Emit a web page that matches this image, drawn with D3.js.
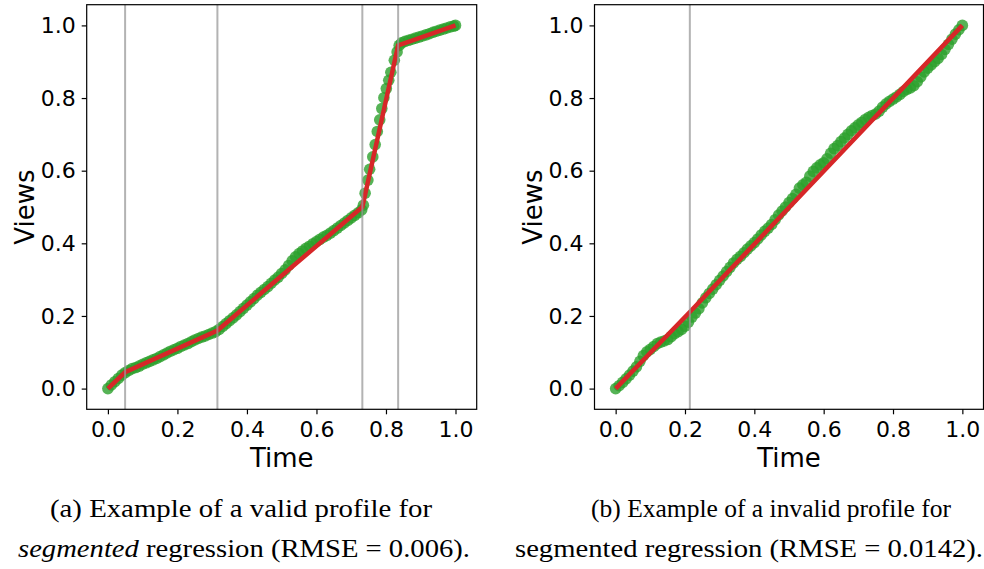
<!DOCTYPE html>
<html>
<head>
<meta charset="utf-8">
<script src="https://cdn.jsdelivr.net/npm/d3@7"></script>
<style>
  body { margin: 0; background: #fff; }
  svg { display: block; }
  .tick text { font-family: "DejaVu Sans", sans-serif; font-size: 22px; fill: #000; }
  .axis-label { font-family: "DejaVu Sans", sans-serif; font-size: 26px; fill: #000; }
  .caption { font-family: "Liberation Serif", serif; font-size: 26px; fill: #000; }
</style>
</head>
<body>
<svg width="984" height="569"></svg>
<script>
// panel (a): observed profile, normalised
var timeA = [0.00, 0.01, 0.02, 0.03, 0.04, 0.05, 0.06, 0.07, 0.08, 0.09,
  0.10, 0.11, 0.12, 0.13, 0.14, 0.15, 0.16, 0.17, 0.18, 0.19,
  0.20, 0.21, 0.22, 0.23, 0.24, 0.25, 0.26, 0.27, 0.28, 0.29,
  0.30, 0.31, 0.32, 0.33, 0.34, 0.35, 0.36, 0.37, 0.38, 0.39,
  0.40, 0.41, 0.42, 0.43, 0.44, 0.45, 0.46, 0.47, 0.48, 0.49,
  0.50, 0.51, 0.52, 0.53, 0.54, 0.55, 0.56, 0.57, 0.58, 0.59,
  0.60, 0.61, 0.62, 0.63, 0.64, 0.65, 0.66, 0.67, 0.68, 0.69,
  0.70, 0.71, 0.72, 0.73,
  0.735, 0.740, 0.748, 0.753, 0.762, 0.769, 0.775, 0.782, 0.788, 0.794,
  0.801, 0.808, 0.814, 0.824, 0.832, 0.838,
  0.845, 0.855, 0.865, 0.875, 0.885, 0.895, 0.905, 0.915, 0.925, 0.935,
  0.945, 0.955, 0.965, 0.975, 0.985, 0.995, 1.000];
var viewsA = [0.000, 0.010, 0.019, 0.028, 0.037, 0.044, 0.050, 0.055, 0.058, 0.062,
  0.067, 0.071, 0.075, 0.079, 0.083, 0.088, 0.093, 0.098, 0.103, 0.107,
  0.111, 0.116, 0.120, 0.124, 0.129, 0.134, 0.138, 0.142, 0.145, 0.149,
  0.153, 0.157, 0.163, 0.171, 0.179, 0.187, 0.195, 0.203, 0.212, 0.221,
  0.230, 0.239, 0.248, 0.257, 0.265, 0.273, 0.281, 0.290, 0.299, 0.307,
  0.317, 0.327, 0.339, 0.352, 0.363, 0.372, 0.379, 0.386, 0.392, 0.399,
  0.405, 0.411, 0.417, 0.422, 0.428, 0.435, 0.442, 0.449, 0.456, 0.463,
  0.470, 0.477, 0.484, 0.492,
  0.505, 0.538, 0.574, 0.604, 0.638, 0.672, 0.708, 0.740, 0.771, 0.801,
  0.826, 0.849, 0.871, 0.904, 0.927, 0.945,
  0.952, 0.956, 0.959, 0.962, 0.965, 0.968, 0.971, 0.974, 0.977, 0.981,
  0.984, 0.987, 0.990, 0.993, 0.996, 0.998, 1.000];
// panel (a): segmented fit
var fitTimeA = [0, 0.0495, 0.315, 0.732, 0.835, 1];
var fitViewsA = [0, 0.045, 0.160, 0.500, 0.945, 1];
var breaksA = [0.0495, 0.315, 0.732, 0.835];

// panel (b)
var timeB = [0.00, 0.01, 0.02, 0.03, 0.04, 0.05, 0.06, 0.07, 0.08, 0.09,
  0.10, 0.11, 0.12, 0.13, 0.14, 0.15, 0.16, 0.17, 0.18, 0.19,
  0.20, 0.21, 0.22, 0.23, 0.24, 0.25, 0.26, 0.27, 0.28, 0.29,
  0.30, 0.31, 0.32, 0.33, 0.34, 0.35, 0.36, 0.37, 0.38, 0.39,
  0.40, 0.41, 0.42, 0.43, 0.44, 0.45, 0.46, 0.47, 0.48, 0.49,
  0.50, 0.51, 0.52, 0.53, 0.54, 0.55, 0.56, 0.57, 0.58, 0.59,
  0.60, 0.61, 0.62, 0.63, 0.64, 0.65, 0.66, 0.67, 0.68, 0.69,
  0.70, 0.71, 0.72, 0.73, 0.74, 0.75, 0.76, 0.77, 0.78, 0.79,
  0.80, 0.81, 0.82, 0.83, 0.84, 0.85, 0.86, 0.87, 0.88, 0.89,
  0.90, 0.91, 0.92, 0.93, 0.94, 0.95, 0.96, 0.97, 0.98, 0.99, 1.00];
var viewsB = [0.000, 0.008, 0.017, 0.027, 0.037, 0.048, 0.060, 0.075, 0.091, 0.101,
  0.108, 0.116, 0.124, 0.128, 0.131, 0.135, 0.143, 0.151, 0.157, 0.163,
  0.172, 0.183, 0.197, 0.208, 0.220, 0.236, 0.250, 0.262, 0.274, 0.286,
  0.298, 0.310, 0.322, 0.334, 0.346, 0.356, 0.364, 0.374, 0.384, 0.393,
  0.402, 0.412, 0.423, 0.433, 0.442, 0.452, 0.465, 0.478, 0.489, 0.500,
  0.512, 0.523, 0.535, 0.552, 0.561, 0.568, 0.585, 0.598, 0.608, 0.616,
  0.622, 0.633, 0.648, 0.661, 0.669, 0.680, 0.690, 0.700, 0.710, 0.718,
  0.726, 0.733, 0.741, 0.747, 0.752, 0.756, 0.764, 0.775, 0.784, 0.791,
  0.797, 0.803, 0.810, 0.818, 0.824, 0.828, 0.834, 0.845, 0.858, 0.872,
  0.882, 0.891, 0.900, 0.909, 0.920, 0.934, 0.948, 0.962, 0.976, 0.988, 1.000];
var fitTimeB = [0, 0.214, 1];
var fitViewsB = [0, 0.211, 1];
var breaksB = [0.214];

var tickValues = [0, 0.2, 0.4, 0.6, 0.8, 1.0];

var svg = d3.select("svg");

function drawPanel(left, right, time, views, fitTime, fitViews, breaks) {
  var top = 4.7, bottom = 409.3;
  var x = d3.scaleLinear().domain([-0.061, 1.061]).range([left, right]);
  var y = d3.scaleLinear().domain([-0.057, 1.057]).range([bottom, top]);
  var g = svg.append("g");

  var pts = time.map(function(t, i) { return [t, views[i]]; });
  g.append("g").selectAll("circle")
    .data(pts)
    .enter().append("circle")
      .attr("cx", function(d) { return x(d[0]); })
      .attr("cy", function(d) { return y(d[1]); })
      .attr("r", 5.8)
      .attr("fill", "#2ca02c")
      .attr("fill-opacity", 0.8);

  var fit = fitTime.map(function(t, i) { return [t, fitViews[i]]; });
  g.append("path")
    .datum(fit)
    .attr("fill", "none")
    .attr("stroke", "#d62728")
    .attr("stroke-width", 4.5)
    .attr("d", d3.line().x(function(d) { return x(d[0]); }).y(function(d) { return y(d[1]); }));

  g.append("g").selectAll("line")
    .data(breaks)
    .enter().append("line")
      .attr("x1", function(d) { return x(d); })
      .attr("x2", function(d) { return x(d); })
      .attr("y1", top)
      .attr("y2", bottom)
      .attr("stroke", "#999")
      .attr("stroke-opacity", 0.75)
      .attr("stroke-width", 2);

  var xAxis = g.append("g")
    .attr("transform", "translate(0," + bottom + ")")
    .call(d3.axisBottom(x).tickValues(tickValues).tickFormat(d3.format(".1f"))
      .tickSize(5).tickPadding(7).tickSizeOuter(0));
  var yAxis = g.append("g")
    .attr("transform", "translate(" + left + ",0)")
    .call(d3.axisLeft(y).tickValues(tickValues).tickFormat(d3.format(".1f"))
      .tickSize(5).tickPadding(6).tickSizeOuter(0));
  [xAxis, yAxis].forEach(function(a) {
    a.select(".domain").remove();
    a.selectAll(".tick line").attr("stroke", "#000").attr("stroke-width", 1.2);
  });

  g.append("rect")
    .attr("x", left).attr("y", top)
    .attr("width", right - left).attr("height", bottom - top)
    .attr("fill", "none")
    .attr("stroke", "#000")
    .attr("stroke-width", 1.2);

  g.append("text")
    .attr("class", "axis-label")
    .attr("x", x(0.5))
    .attr("y", 467)
    .attr("text-anchor", "middle")
    .text("Time");

  g.append("text")
    .attr("class", "axis-label")
    .attr("transform", "translate(" + (left - 53) + "," + y(0.5) + ") rotate(-90)")
    .attr("text-anchor", "middle")
    .text("Views");
}

drawPanel(86.7, 476.7, timeA, viewsA, fitTimeA, fitViewsA, breaksA);
drawPanel(594.5, 983.5, timeB, viewsB, fitTimeB, fitViewsB, breaksB);

// captions
function caption(cx, cy, width, parts) {
  var t = svg.append("text")
    .attr("class", "caption")
    .attr("x", cx - width / 2)
    .attr("y", cy)
    .attr("textLength", width)
    .attr("lengthAdjust", "spacingAndGlyphs");
  parts.forEach(function(p) {
    t.append("tspan")
      .attr("font-style", p[1] ? "italic" : null)
      .text(p[0]);
  });
}
caption(241, 517, 382, [["(a) Example of a valid profile for", false]]);
caption(244, 557, 452, [["segmented", true], [" regression (RMSE = 0.006).", false]]);
caption(771, 517, 360, [["(b) Example of a invalid profile for", false]]);
caption(749, 557, 468, [["segmented regression (RMSE = 0.0142).", false]]);
</script>
</body>
</html>
